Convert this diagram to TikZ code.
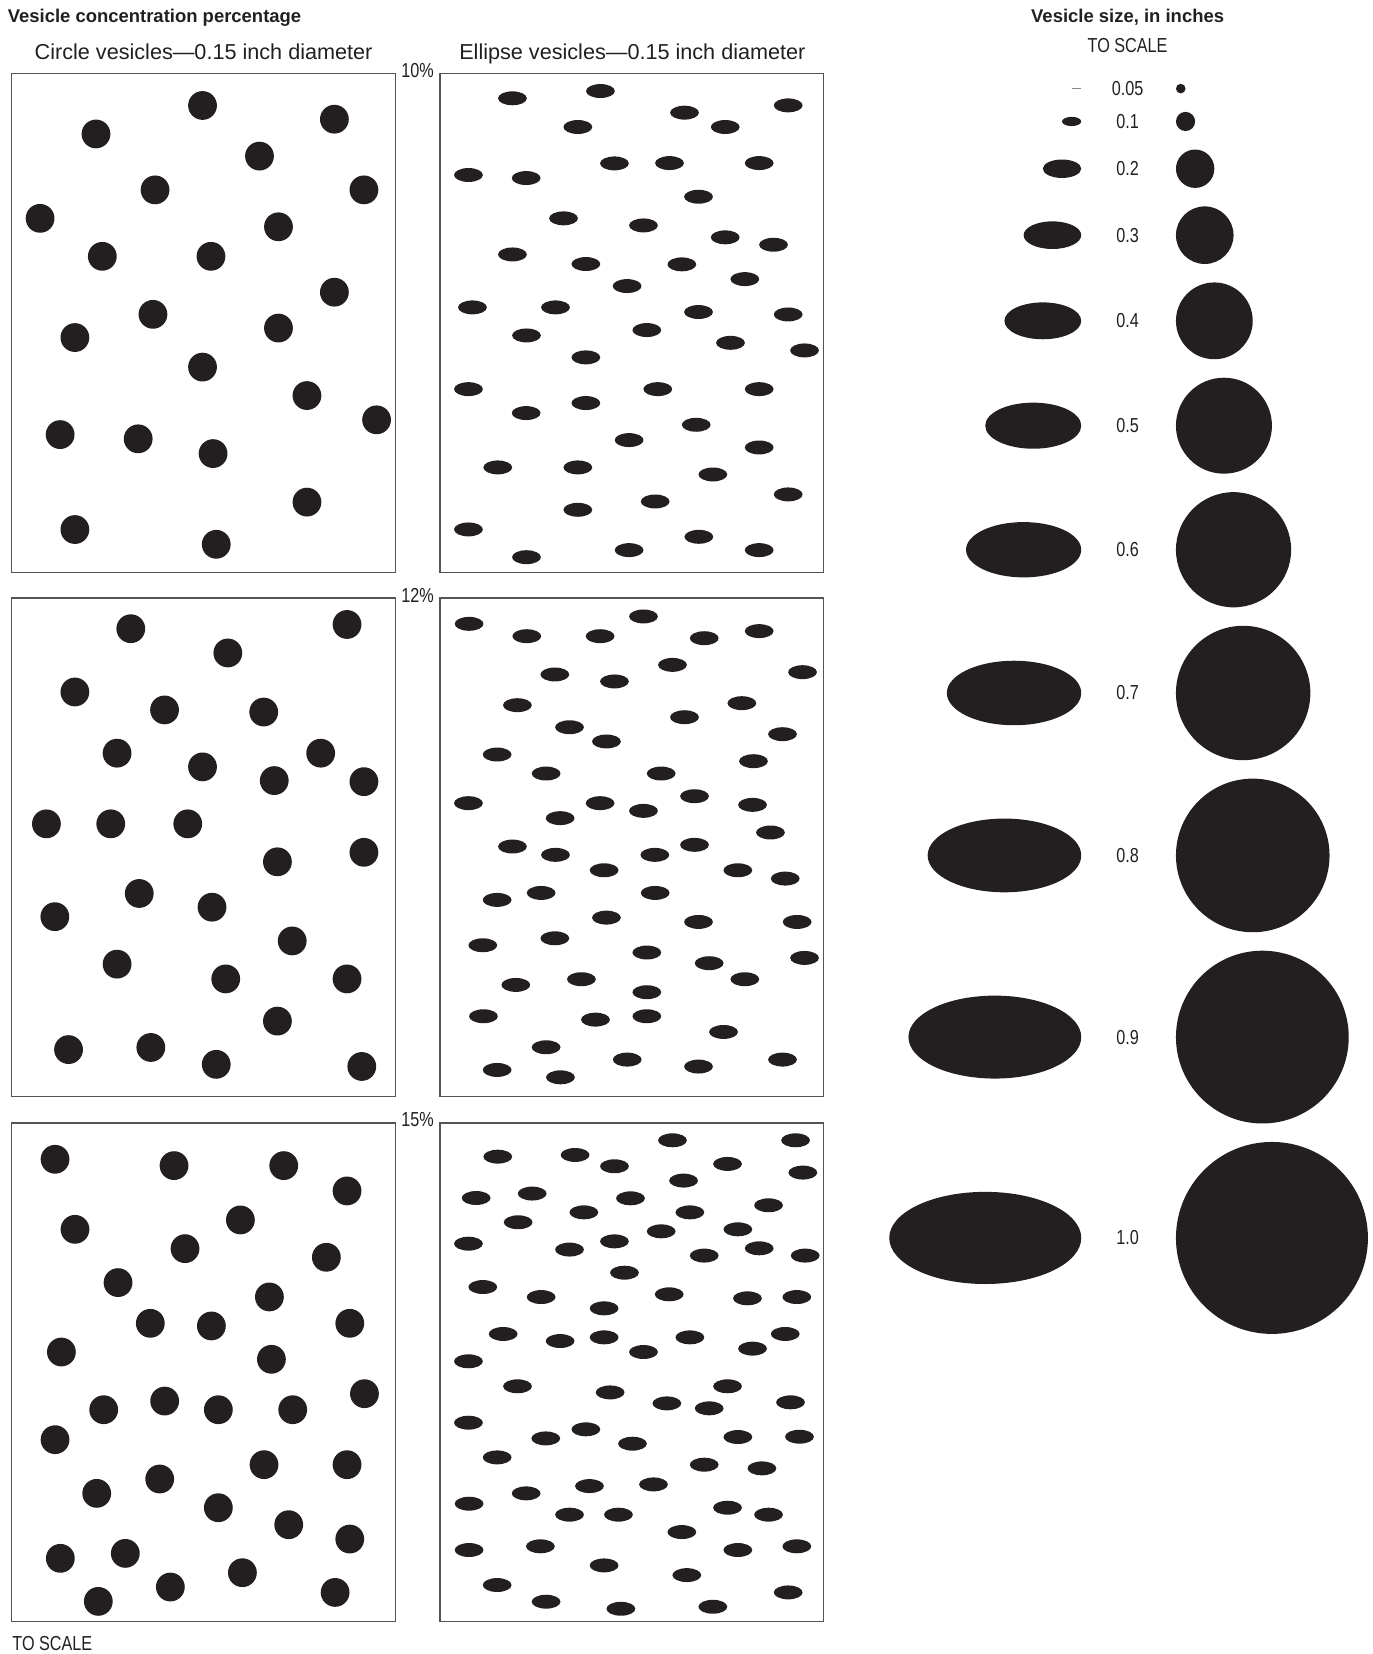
\documentclass[tikz,border=0pt]{standalone}
\usepackage{fontspec}
\setmainfont{Liberation Sans}
\newfontfamily\condf[FakeStretch=0.8]{Liberation Sans}
\definecolor{ink}{RGB}{35,31,32}
\definecolor{frame}{RGB}{85,85,85}
\tikzset{
  boxframe/.style={draw=frame, line width=0.6pt},
  boldtitle/.style={font=\fontsize{8.75}{10}\selectfont\bfseries, text=ink, inner sep=0pt},
  headtxt/.style={font=\fontsize{10.25}{12}\selectfont, text=ink, inner sep=0pt},
  condtxt/.style={font=\condf\fontsize{9.6}{11}\selectfont, text=ink, inner sep=0pt},
}
\begin{document}
\begin{tikzpicture}[x=0.5pt,y=-0.5pt]
\useasboundingbox (0,0) rectangle (1301,1568);
% titles
\node[boldtitle, anchor=base west] (t1) at (7,21.5) {Vesicle concentration percentage};
\node[boldtitle, anchor=base] (t2) at (1069,21.5) {Vesicle size, in inches};
\node[condtxt, anchor=base] (ts1) at (1069,49.6) {TO SCALE};
\node[condtxt, anchor=base west] (ts2) at (11.4,1564.6) {TO SCALE};
\node[headtxt, anchor=base] (h1) at (193,56.5) {Circle vesicles—0.15 inch diameter};
\node[headtxt, anchor=base] (h2) at (599.5,56.5) {Ellipse vesicles—0.15 inch diameter};
% percentage labels
\node[condtxt, anchor=base west] (p10) at (380,73) {10\%};
\node[condtxt, anchor=base west] (p12) at (380,571) {12\%};
\node[condtxt, anchor=base west] (p15) at (380,1068) {15\%};
% frames
\foreach \t/\b in {69.8/542.4, 567/1039.5, 1064.5/1537}{
  \draw[boxframe] (11,\t) rectangle (375,\b);
  \draw[boxframe] (417,\t) rectangle (781,\b);
}
% 10% circles
\foreach \x/\y in {192/100,317/113,91/127,246/148,147/180,345/180,38/207,264/215,97/243,200/243,317/277,145/298,71/320,264/311,192/348,291/375,357/398,57/412,131/416,202/430,291/476,71/502,205/516}
  \fill[ink] (\x,\y) circle [radius=13.65];
% 10% ellipses
\foreach \x/\y in {485.8/93.2,569.2/86.3,648.9/106.8,747.2/99.9,547.8/120.4,687.5/120.4,444.1/165.9,498.8/168.8,582.5/154.9,634.7/154.6,719.7/154.6,662.2/186.5,534.2/207,610/213.7,687.5/225,733.3/232,485.8/241.2,555.4/250.3,646.4/250.6,594.5/271.2,706.1/264.6,447.9/291.4,526.6/291.4,662.2/295.8,747.2/298.1,499.1/318,613.2/312.9,692.5/325,762.7/332.2,555.4/338.8,444.1/368.9,623.6/368.9,719.7/368.9,498.8/391.6,555.4/382.1,660/402.7,596.4/417.2,719.7/424.2,471.9/443.1,547.8/443.1,675.8/449.8,621.1/475.4,547.8/483.3,747.2/468.7,444.1/501.9,662.5/508.9,499.1/528.2,596.4/521.5,719.7/521.5}
  \fill[ink] (\x,\y) ellipse [x radius=13.65, y radius=6.6];
% 12% circles
\foreach \x/\y in {124/596,329/592,216/619,71/656,156/673,250/675,111/714,192/727,304/714,260/740,345/741,44/781,105/781,178/781,263/817,345/808,132/847,201/860,52/869,277/892,111/914,214/928,329/928,263/968,65/995,143/993,205/1009,343/1011}
  \fill[ink] (\x,\y) circle [radius=13.65];
% 12% ellipses
\foreach \x/\y in {444.7/591.4,499.4/603.1,568.9/603.1,610/584.4,667.6/605,719.7/598.3,526/639.4,582.5/646,637.5/630.3,760.8/637.2,490.5/668.5,539.9/689.4,574.9/702.9,648.9/679.9,703.3/666.6,741.8/696,471.3/715.3,517.7/733.3,626.8/733.3,714.3/721.6,444.1/761.4,531/775.6,568.9/761.4,610/768.7,658.4/754.8,713.4/763,730.4/789.2,485.8/802.5,658.4/800.9,526.6/810.4,620.8/810.4,572.7/825,699.5/825,744.4/832.9,471.3/853.1,513/846.5,621.1/846.5,574.9/869.9,662.2/874,755.7/874,457.7/896.1,526/889.5,613.2/903,672.3/913.1,762.7/908.1,489/933.7,551.2/928.3,613.2/940.6,706.1/928.3,458.3/963.4,564.5/966.6,613.2/963.4,685.9/978.3,517.7/992.8,594.6/1004.5,662.2/1011.1,741.8/1004.5,471.3/1014.3,531.3/1021.3}
  \fill[ink] (\x,\y) ellipse [x radius=13.65, y radius=6.6];
% 15% circles
\foreach \x/\y in {52.2/1099,165/1105,269/1105,329/1129,71.1/1165.4,227.9/1156.5,175.4/1183.7,309.4/1191.9,111.9/1215.9,255.4/1229.5,142.5/1254.5,200.4/1257,331.6/1254.5,58.2/1281.7,257.3/1288.6,98.3/1336.4,156.1/1328.2,207/1336.4,277.5/1336.4,345.5/1321.2,52.2/1364.8,250.3/1388.5,329/1388.5,91.7/1415.7,151.4/1402.1,207/1429.3,273.7/1445.4,331.6/1459,57.2/1477.3,118.8/1472.6,161.5/1504.5,229.8/1490.9,317.7/1509.6,93.2/1518.1}
  \fill[ink] (\x,\y) circle [radius=13.65];
% 15% ellipses
\foreach \x/\y in {637.5/1081,754.2/1081,471.9/1096.5,545.2/1094.9,582.5/1105.6,689.7/1103.4,761.1/1111.6,648/1119.2,451.4/1135.7,504.5/1131.5,597.7/1136,728.6/1142.6,491.2/1158.7,553.5/1149.3,654/1149.3,626.8/1167.3,699.5/1165.4,444.1/1179,582.5/1176.8,539.9/1184.6,719.7/1183.4,667.6/1190.3,763.3/1190.3,592/1206.5,457.7/1220.1,513/1229.6,634.4/1227,708.6/1230.8,755.4/1229.6,572.7/1240.3,477/1264.6,531/1271.3,572.7/1267.8,654/1267.8,744.4/1264.6,610/1281.7,713.4/1278.5,444.1/1290.5,490.6/1314.2,578.4/1320,689.7/1314.2,632.2/1330.4,672.3/1335.1,749.4/1329.4,444.1/1348.7,555.4/1355,517.4/1363.6,599.6/1368.6,699.5/1362.3,757.9/1362,471.3/1381.6,667.6/1388.5,722.3/1392,558.8/1408.8,619.5/1407.2,498.8/1415.7,444.7/1425.5,539.9/1435.9,586.3/1435.9,689.7/1429.3,728.6/1435.9,646.4/1452.4,444.7/1469.4,512.3/1465.9,699.5/1469.4,755.4/1465.9,572.7/1484,651.1/1493.2,471.3/1502.6,747.2/1509.6,517.7/1518.4,588.6/1525.1,675.8/1523.2}
  \fill[ink] (\x,\y) ellipse [x radius=13.65, y radius=6.6];
% legend
\draw[frame!70!white, line width=0.5pt] (1016,84) -- (1025,84);
\fill[ink] (1114.8+4.55,84) circle [radius=4.55];
\node[condtxt] (l005) at (1069,84) {0.05};
\foreach \s/\r/\y in {0.1/9.1/115.15, 0.2/18.2/159.95, 0.3/27.3/222.95, 0.4/36.4/304.15, 0.5/45.5/403.55, 0.6/54.6/521.15, 0.7/63.7/656.95, 0.8/72.8/810.95, 0.9/81.9/983.15, 1.0/91/1173.55}{
  \fill[ink] (1025-\r,\y) ellipse [x radius=\r, y radius=0.48*\r];
  \fill[ink] (1114.8+\r,\y) circle [radius=\r];
  \node[condtxt] (l\s) at (1069,\y) {\s};
}
\end{tikzpicture}
\end{document}
